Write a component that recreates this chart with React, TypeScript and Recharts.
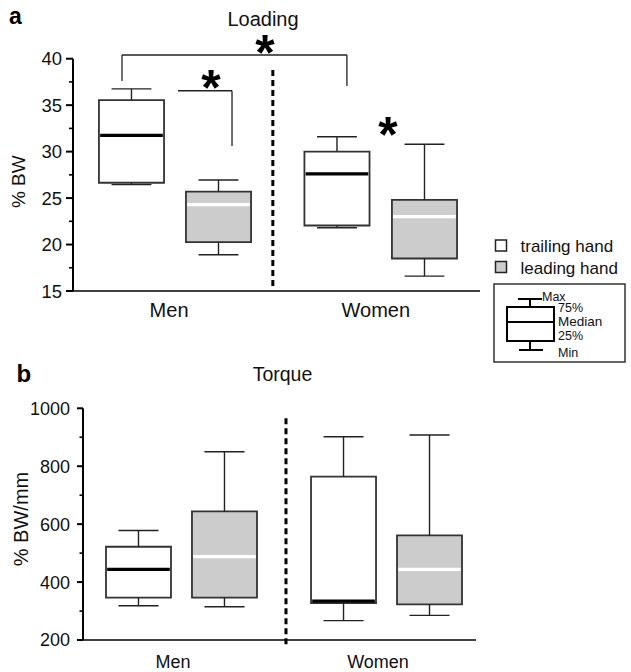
import React from 'react';
import {
  ComposedChart,
  XAxis,
  YAxis,
  ReferenceArea,
  ReferenceLine,
  ReferenceDot,
  Scatter,
} from 'recharts';

const FONT = '"Liberation Sans", Arial, Helvetica, sans-serif';

// ---------- data ----------
const groups = ['Men', 'Women'];
const hands = ['trailing hand', 'leading hand'];
// box order: Men trailing, Men leading, Women trailing, Women leading
const boxHand = [0, 1, 0, 1];

// Loading (% BW)
const loadingMin = [26.45, 18.9, 21.8, 16.6];
const loadingQ1 = [26.65, 20.25, 22.05, 18.5];
const loadingMedian = [31.75, 24.3, 27.6, 23.0];
const loadingQ3 = [35.55, 25.7, 30.0, 24.8];
const loadingMax = [36.75, 26.95, 31.6, 30.8];
const loadingTicks = [15, 17.5, 20, 22.5, 25, 27.5, 30, 32.5, 35, 37.5, 40];

// Torque (% BW/mm)
const torqueMin = [318, 315, 267, 285];
const torqueQ1 = [346, 346, 327, 323];
const torqueMedian = [444, 488, 334, 444];
const torqueQ3 = [522, 644, 764, 561];
const torqueMax = [578, 850, 902, 908];
const torqueTicks = [200, 300, 400, 500, 600, 700, 800, 900, 1000];

// significance annotations (Loading), % BW levels
const bracketGroupLevels = [37.6, 40.4, 37.05]; // left end, top, right end
const bracketHandLevels = [36.55, 30.6]; // top, end
const starLevels = [41.5, 37.7, 32.65];

// legend box labels
const keyLabels = ['Max', '75%', 'Median', '25%', 'Min'];

// ---------- layout (x in 0..100 plot units) ----------
const layoutA = {
  centers: [14.37, 35.75, 64.86, 86.36],
  halfW: 8.0,
  capHalf: 4.9,
  divider: 49.1,
  dividerRange: [38.78, 15.1],
  labelX: [23.6, 74.4],
};
const layoutB = {
  centers: [14.12, 36.0, 66.29, 88.17],
  halfW: 8.27,
  capHalf: 5.1,
  divider: 51.65,
  dividerRange: [966, 176],
  labelX: [22.9, 75.06],
};
const bracketGroupX = [12.04, 67.3];
const bracketHandX = [25.8, 39.07];
const starX = [47.2, 33.9, 77.4];

type Stats = { min: number[]; q1: number[]; med: number[]; q3: number[]; max: number[] };

function boxElements(prefix: string, s: Stats, L: typeof layoutA) {
  const els: React.ReactNode[] = [];
  const wStroke = '#222';
  s.min.forEach((_, i) => {
    const cx = L.centers[i];
    const cw = L.capHalf;
    els.push(
      <ReferenceLine key={`${prefix}-su-${i}`} ifOverflow="visible"
        segment={[{ x: cx, y: s.q3[i] }, { x: cx, y: s.max[i] }]}
        stroke={wStroke} strokeWidth={1.4} />,
      <ReferenceLine key={`${prefix}-sd-${i}`} ifOverflow="visible"
        segment={[{ x: cx, y: s.q1[i] }, { x: cx, y: s.min[i] }]}
        stroke={wStroke} strokeWidth={1.4} />,
      <ReferenceLine key={`${prefix}-cu-${i}`} ifOverflow="visible"
        segment={[{ x: cx - cw, y: s.max[i] }, { x: cx + cw, y: s.max[i] }]}
        stroke={wStroke} strokeWidth={1.4} />,
      <ReferenceLine key={`${prefix}-cd-${i}`} ifOverflow="visible"
        segment={[{ x: cx - cw, y: s.min[i] }, { x: cx + cw, y: s.min[i] }]}
        stroke={wStroke} strokeWidth={1.4} />,
    );
  });
  s.min.forEach((_, i) => {
    const cx = L.centers[i];
    const hw = L.halfW;
    const fill = boxHand[i] === 0 ? '#ffffff' : '#cccccc';
    els.push(
      <ReferenceArea key={`${prefix}-box-${i}`} ifOverflow="visible"
        x1={cx - hw} x2={cx + hw} y1={s.q1[i]} y2={s.q3[i]}
        fill={fill} fillOpacity={1} stroke="#333" strokeWidth={1.8} />,
    );
  });
  s.min.forEach((_, i) => {
    const cx = L.centers[i];
    const inner = L.halfW - 0.3;
    els.push(
      <ReferenceLine key={`${prefix}-med-${i}`} ifOverflow="visible"
        segment={[{ x: cx - inner, y: s.med[i] }, { x: cx + inner, y: s.med[i] }]}
        stroke={boxHand[i] === 0 ? '#000' : '#fff'} strokeWidth={3.2} />,
    );
  });
  return els;
}

function makeYTick(majorStep: number, majorLen: number, minorLen: number, gap: number, fontSize: number) {
  return (props: any) => {
    const { x, y, payload } = props;
    const v = payload.value as number;
    const major = Math.abs(v / majorStep - Math.round(v / majorStep)) < 1e-6;
    const len = major ? majorLen : minorLen;
    return (
      <g>
        <line x1={x - len} x2={x} y1={y} y2={y} stroke="#000" strokeWidth={major ? 2 : 1.6} />
        {major && (
          <text x={x - gap} y={y} dy="0.36em" textAnchor="end" fontSize={fontSize}
            fontFamily={FONT} fill="#111">{v}</text>
        )}
      </g>
    );
  };
}

const starShape = (p: any) => (
  <text x={p.cx} y={p.cy + 25} textAnchor="middle" fontSize={50} fontWeight="bold"
    fontFamily={FONT} fill="#000">*</text>
);

const noShape = () => <g />;

function ChartA() {
  const s: Stats = { min: loadingMin, q1: loadingQ1, med: loadingMedian, q3: loadingQ3, max: loadingMax };
  const L = layoutA;
  const pts = L.centers.map((c, i) => ({ x: c, y: loadingMedian[i] }));
  return (
    <ComposedChart width={631} height={330} margin={{ top: 58.7, right: 151, bottom: 9, left: 13 }}>
      <XAxis type="number" dataKey="x" domain={[0, 100]} ticks={L.labelX} interval={0}
        tickFormatter={(v: number) => (v < 50 ? groups[0] : groups[1])}
        tickLine={false} tickSize={0} tickMargin={12} height={30}
        axisLine={{ stroke: '#000', strokeWidth: 1.5 }}
        tick={{ fontSize: 20, fill: '#111', fontFamily: FONT }} />
      <YAxis type="number" dataKey="y" domain={[15, 40]} ticks={loadingTicks} interval={0}
        width={60} tickLine={false} tickSize={0} tickMargin={0}
        axisLine={{ stroke: '#000', strokeWidth: 2 }}
        tick={makeYTick(5, 7, 4, 11, 18.5)} />
      <Scatter data={pts} shape={noShape} isAnimationActive={false} />
      {boxElements('a', s, L)}
      <ReferenceLine ifOverflow="visible"
        segment={[{ x: L.divider, y: L.dividerRange[0] }, { x: L.divider, y: L.dividerRange[1] }]}
        stroke="#000" strokeWidth={3} strokeDasharray="6 4" />
      <ReferenceLine ifOverflow="visible"
        segment={[
          { x: bracketGroupX[0], y: bracketGroupLevels[0] },
          { x: bracketGroupX[0], y: bracketGroupLevels[1] },
        ]} stroke="#222" strokeWidth={1.3} />
      <ReferenceLine ifOverflow="visible"
        segment={[
          { x: bracketGroupX[0], y: bracketGroupLevels[1] },
          { x: bracketGroupX[1], y: bracketGroupLevels[1] },
        ]} stroke="#222" strokeWidth={1.3} />
      <ReferenceLine ifOverflow="visible"
        segment={[
          { x: bracketGroupX[1], y: bracketGroupLevels[1] },
          { x: bracketGroupX[1], y: bracketGroupLevels[2] },
        ]} stroke="#222" strokeWidth={1.3} />
      <ReferenceLine ifOverflow="visible"
        segment={[
          { x: bracketHandX[0], y: bracketHandLevels[0] },
          { x: bracketHandX[1], y: bracketHandLevels[0] },
        ]} stroke="#222" strokeWidth={1.3} />
      <ReferenceLine ifOverflow="visible"
        segment={[
          { x: bracketHandX[1], y: bracketHandLevels[0] },
          { x: bracketHandX[1], y: bracketHandLevels[1] },
        ]} stroke="#222" strokeWidth={1.3} />
      {starX.map((sx, i) => (
        <ReferenceDot key={`star-${i}`} x={sx} y={starLevels[i]} r={0} ifOverflow="visible"
          shape={starShape} />
      ))}
    </ComposedChart>
  );
}

function ChartB() {
  const s: Stats = { min: torqueMin, q1: torqueQ1, med: torqueMedian, q3: torqueQ3, max: torqueMax };
  const L = layoutB;
  const pts = L.centers.map((c, i) => ({ x: c, y: torqueMedian[i] }));
  return (
    <ComposedChart width={631} height={332} margin={{ top: 68.3, right: 155, bottom: 2, left: 23 }}>
      <XAxis type="number" dataKey="x" domain={[0, 100]} ticks={L.labelX} interval={0}
        tickFormatter={(v: number) => (v < 50 ? groups[0] : groups[1])}
        tickLine={false} tickSize={0} tickMargin={15} height={30}
        axisLine={{ stroke: '#000', strokeWidth: 1.5 }}
        tick={{ fontSize: 18, fill: '#111', fontFamily: FONT }} />
      <YAxis type="number" dataKey="y" domain={[200, 1000]} ticks={torqueTicks} interval={0}
        width={60} tickLine={false} tickSize={0} tickMargin={0}
        axisLine={{ stroke: '#000', strokeWidth: 2 }}
        tick={makeYTick(200, 6, 3.5, 13, 18)} />
      <Scatter data={pts} shape={noShape} isAnimationActive={false} />
      {boxElements('b', s, L)}
      <ReferenceLine ifOverflow="visible"
        segment={[{ x: L.divider, y: L.dividerRange[0] }, { x: L.divider, y: L.dividerRange[1] }]}
        stroke="#000" strokeWidth={3} strokeDasharray="6 4" />
    </ComposedChart>
  );
}

function Overlay() {
  const keyPos = [
    { x: 542, y: 300.5, fs: 12.5 },
    { x: 558, y: 311.5, fs: 12.5 },
    { x: 558, y: 326, fs: 13.5 },
    { x: 558, y: 340, fs: 12.5 },
    { x: 558, y: 356.5, fs: 12.5 },
  ];
  return (
    <svg width={631} height={672} style={{ position: 'absolute', left: 0, top: 0, pointerEvents: 'none' }}
      fontFamily={FONT}>
      <text x={9} y={24} fontSize={23} fontWeight="bold" fill="#000">a</text>
      <text x={263} y={25.7} fontSize={20} textAnchor="middle" fill="#111">Loading</text>
      <text transform="translate(25,181.7) rotate(-90)" fontSize={19} textAnchor="middle" fill="#111">% BW</text>

      <text x={16.5} y={381.7} fontSize={24} fontWeight="bold" fill="#000">b</text>
      <text x={282.5} y={380.7} fontSize={19.5} textAnchor="middle" fill="#111">Torque</text>
      <text transform="translate(28,519) rotate(-90)" fontSize={20} textAnchor="middle" fill="#111">% BW/mm</text>

      {/* legend */}
      <rect x={495.5} y={240} width={11} height={11} fill="#fff" stroke="#222" strokeWidth={1.5} />
      <text x={520.5} y={251.5} fontSize={17} fill="#111">{hands[0]}</text>
      <rect x={495.5} y={261.5} width={11} height={11} fill="#ccc" stroke="#222" strokeWidth={1.5} />
      <text x={520.5} y={273.5} fontSize={17} fill="#111">{hands[1]}</text>

      <rect x={494} y={284} width={131} height={78} fill="#fff" stroke="#333" strokeWidth={1.5} />
      <line x1={518} x2={542} y1={299} y2={299} stroke="#000" strokeWidth={2} />
      <line x1={530} x2={530} y1={299} y2={307} stroke="#000" strokeWidth={2} />
      <rect x={507} y={307} width={47} height={34} fill="#fff" stroke="#000" strokeWidth={2} />
      <line x1={507} x2={554} y1={322} y2={322} stroke="#000" strokeWidth={2} />
      <line x1={530} x2={530} y1={341} y2={350} stroke="#000" strokeWidth={2} />
      <line x1={519} x2={543} y1={350} y2={350} stroke="#000" strokeWidth={2} />
      {keyLabels.map((t, i) => (
        <text key={t} x={keyPos[i].x} y={keyPos[i].y} fontSize={keyPos[i].fs} fill="#111">{t}</text>
      ))}
    </svg>
  );
}

export default function App() {
  return (
    <div style={{ position: 'absolute', left: 0, top: 0, width: 631, height: 672, background: '#fff', fontFamily: FONT }}>
      <div style={{ position: 'absolute', left: 0, top: 0 }}>
        <ChartA />
      </div>
      <div style={{ position: 'absolute', left: 0, top: 340 }}>
        <ChartB />
      </div>
      <Overlay />
    </div>
  );
}
